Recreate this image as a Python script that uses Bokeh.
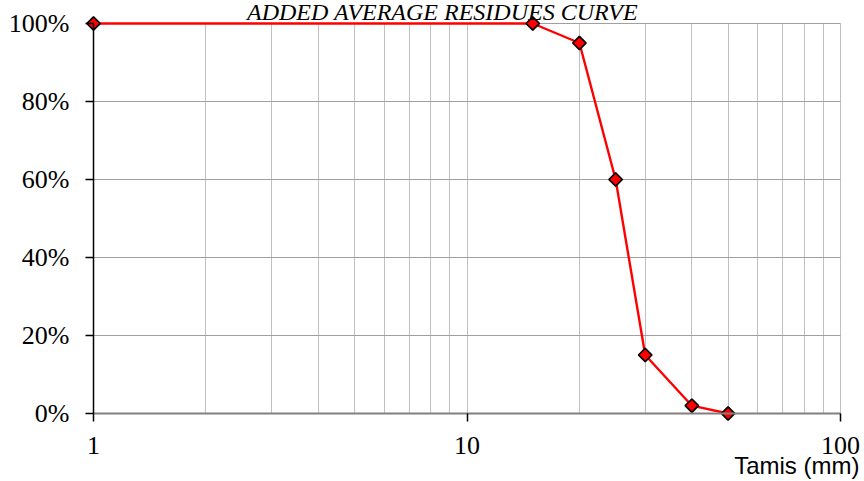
import numpy as np
from bokeh.plotting import figure
from bokeh.models import (Range1d, FixedTicker, NumeralTickFormatter, Label, ColumnDataSource)
from bokeh.embed import file_html
from bokeh.resources import INLINE

# ---- data ----
sieve_mm = [1, 15, 20, 25, 30, 40, 50]
passing = [1.00, 1.00, 0.95, 0.60, 0.15, 0.02, 0.00]
x_major_ticks = [1, 10, 100]
x_minor_ticks = [2, 3, 4, 5, 6, 7, 8, 9, 20, 30, 40, 50, 60, 70, 80, 90]
y_ticks = [0, 0.2, 0.4, 0.6, 0.8, 1.0]
title_text = "ADDED AVERAGE RESIDUES CURVE"
x_label_text = "Tamis (mm)"

# ---- layout (pixels) ----
W, H = 864, 481
px_left, px_right = 93, 840      # x=1 and x=100
px_top, px_bottom = 23, 413      # y=1 and y=0
dec_px = (px_right - px_left) / 2.0
unit_px = (px_bottom - px_top)

def xdata(px):
    return 10 ** ((px - px_left) / dec_px)

def ydata(py):
    return (px_bottom - py) / unit_px

p = figure(width=W, height=H, x_axis_type="log", title=None,
           x_range=Range1d(xdata(0), xdata(W)),
           y_range=Range1d(ydata(H), ydata(0)),
           output_backend="svg", toolbar_location=None,
           min_border_left=0, min_border_right=0,
           min_border_top=0, min_border_bottom=0)
p.outline_line_color = None
p.background_fill_color = "white"
p.border_fill_color = "white"

# axes
xa = p.xaxis[0]
xa.ticker = FixedTicker(ticks=x_major_ticks, minor_ticks=x_minor_ticks)
xa.major_label_overrides = {1: "1", 10: "10", 100: "100"}
xa.bounds = (1, 100)
xa.fixed_location = 0
xa.axis_line_color = "#808080"
xa.axis_line_width = 2
xa.major_tick_line_color = "black"
xa.major_tick_line_width = 1.5
xa.major_tick_in = 0
xa.major_tick_out = 8
xa.minor_tick_line_color = None
xa.major_label_standoff = 15
xa.major_label_text_font = "Liberation Serif"
xa.major_label_text_font_size = "26px"
xa.major_label_text_color = "black"

ya = p.yaxis[0]
ya.ticker = FixedTicker(ticks=y_ticks)
ya.formatter = NumeralTickFormatter(format="0%")
ya.bounds = (0, 1)
ya.fixed_location = 1
ya.axis_line_color = "black"
ya.axis_line_width = 1.5
ya.major_tick_line_color = "black"
ya.major_tick_line_width = 1.5
ya.major_tick_in = 0
ya.major_tick_out = 8
ya.minor_tick_line_color = None
ya.major_label_standoff = 16
ya.major_label_text_font = "Liberation Serif"
ya.major_label_text_font_size = "26px"
ya.major_label_text_color = "black"

# grids
xg = p.xgrid[0]
xg.grid_line_color = "#c0c0c0"
xg.minor_grid_line_color = "#c0c0c0"
xg.cross_bounds = (0, 1)
yg = p.ygrid[0]
yg.grid_line_color = "#a0a0a0"
yg.cross_bounds = (1, 100)

# data
src = ColumnDataSource(dict(x=sieve_mm, y=passing))
p.line("x", "y", source=src, line_color="#ff0000", line_width=2.4)
p.scatter("x", "y", source=src, marker="square", angle=np.pi / 4, size=9.5,
          fill_color="#ff0000", line_color="black", line_width=1.7)

# title
p.add_layout(Label(x=xdata(442), y=ydata(11.5),
                   text=title_text, text_align="center", text_baseline="alphabetic",
                   text_font="Liberation Serif", text_font_style="italic",
                   text_font_size="24px", text_color="black"))
# x axis label
p.add_layout(Label(x=xdata(859), y=ydata(465),
                   text=x_label_text, text_align="right", text_baseline="alphabetic",
                   text_font="Liberation Sans", text_font_size="24px", text_color="black"))

open("out.html", "w").write(file_html(p, INLINE))
